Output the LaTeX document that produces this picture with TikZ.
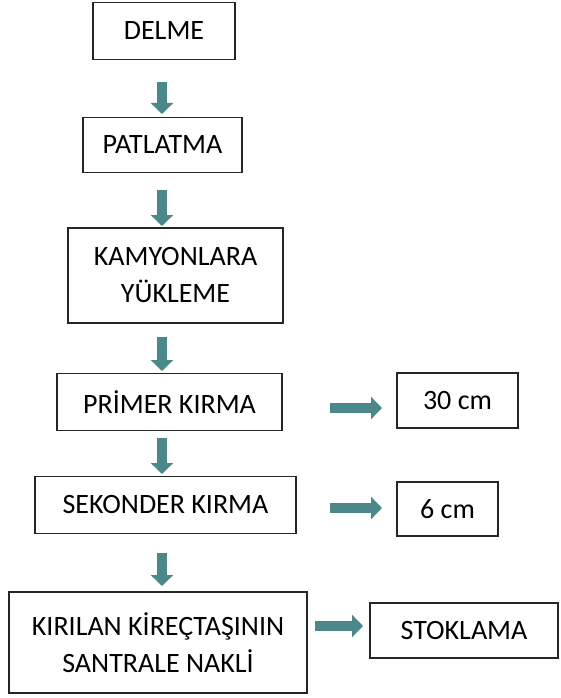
\documentclass[tikz,border=0pt]{standalone}
\usepackage{fontspec}
\setmainfont{Carlito}
\usetikzlibrary{arrows.meta}
\definecolor{teal1}{RGB}{74,136,138}
\tikzset{
  x=1pt,y=-1pt,
  box/.style={draw=black!85,line width=1.3pt,inner sep=0pt,align=center,font=\fontsize{28}{37}\selectfont},
  flow/.style={draw=teal1,line width=10pt,-{Triangle[width=22pt,length=11pt]}},
}
\begin{document}
\begin{tikzpicture}
\useasboundingbox (0,0) rectangle (560,698);
\node[box,minimum width=142pt,minimum height=57pt] (delme) at (164,31) {DELME};
\node[box,minimum width=159pt,minimum height=55pt] (patl) at (162.5,145) {PATLATMA};
\node[box,minimum width=215pt,minimum height=95pt] (kamy) at (175.5,275.5) {KAMYONLARA\\YÜKLEME};
\node[box,minimum width=225pt,minimum height=57pt] (prim) at (169.5,402) {PRİMER KIRMA};
\node[box,minimum width=121pt,minimum height=55pt] (c30) at (457.5,400.5) {30 cm};
\node[box,minimum width=261pt,minimum height=57pt] (sek) at (165.5,505) {SEKONDER KIRMA};
\node[box,minimum width=101pt,minimum height=54pt] (c6) at (447.5,509) {6 cm};
\node[box,minimum width=298pt,minimum height=101pt] (kir) at (158,642.5) {KIRILAN KİREÇTAŞININ\\SANTRALE NAKLİ};
\node[box,minimum width=188pt,minimum height=55pt] (stok) at (464,630.5) {STOKLAMA};
\coordinate (a1s) at (162,82); \coordinate (a1e) at (162,114);
\coordinate (a2s) at (162,190); \coordinate (a2e) at (162,226);
\coordinate (a3s) at (162,337); \coordinate (a3e) at (162,371);
\coordinate (a4s) at (162,438); \coordinate (a4e) at (162,474);
\coordinate (a5s) at (162,553); \coordinate (a5e) at (162,586);
\coordinate (h1s) at (330,408); \coordinate (h1e) at (382,408);
\coordinate (h2s) at (330,508); \coordinate (h2e) at (382,508);
\coordinate (h3s) at (315,626); \coordinate (h3e) at (363,626);
\draw[flow] (a1s) -- (a1e);
\draw[flow] (a2s) -- (a2e);
\draw[flow] (a3s) -- (a3e);
\draw[flow] (a4s) -- (a4e);
\draw[flow] (a5s) -- (a5e);
\draw[flow] (h1s) -- (h1e);
\draw[flow] (h2s) -- (h2e);
\draw[flow] (h3s) -- (h3e);
\end{tikzpicture}
\end{document}
